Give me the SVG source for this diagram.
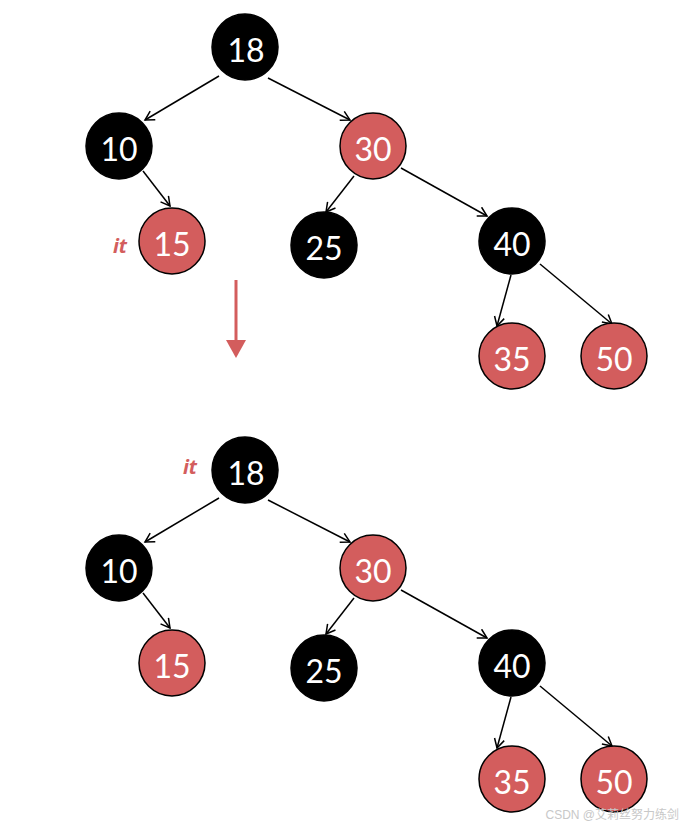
<svg xmlns="http://www.w3.org/2000/svg" width="686" height="828" viewBox="0 0 686 828">
<defs>
<marker id="ah" markerWidth="12" markerHeight="12" refX="10" refY="6" orient="auto" markerUnits="userSpaceOnUse">
<polyline points="1,1 10,6 1,11" fill="none" stroke="#000" stroke-width="1.5"/>
</marker>
<style>
.b{fill:#000;stroke:#000;stroke-width:1.5}
.r{fill:#d35d5d;stroke:#000;stroke-width:1.5}
.t{fill:#fff;font-family:Lato,"Open Sans",sans-serif;font-size:32px;text-anchor:middle;dominant-baseline:central}
.e{stroke:#000;stroke-width:1.5;fill:none;marker-end:url(#ah)}
.it{fill:#d35d5d;font-family:"Open Sans","Noto Sans",sans-serif;font-size:20px;font-style:italic;font-weight:bold;text-anchor:middle}
</style>
</defs>
<rect width="686" height="828" fill="#fff"/>
<g id="connectors">
<line class="e" x1="219" y1="76" x2="145" y2="120"/>
<line class="e" x1="268" y1="78" x2="350" y2="120"/>
<line class="e" x1="143" y1="171" x2="170" y2="206"/>
<line class="e" x1="354" y1="176" x2="326" y2="212"/>
<line class="e" x1="401" y1="168" x2="487" y2="216"/>
<line class="e" x1="511" y1="275" x2="497" y2="326"/>
<line class="e" x1="540" y1="264" x2="612" y2="324"/>
<line class="e" x1="219" y1="498" x2="145" y2="542"/>
<line class="e" x1="268" y1="500" x2="350" y2="542"/>
<line class="e" x1="143" y1="593" x2="170" y2="628"/>
<line class="e" x1="354" y1="598" x2="326" y2="634"/>
<line class="e" x1="401" y1="590" x2="487" y2="638"/>
<line class="e" x1="511" y1="697" x2="497" y2="748"/>
<line class="e" x1="540" y1="686" x2="612" y2="746"/>
<line x1="236" y1="280" x2="236" y2="342" stroke="#d35d5d" stroke-width="3"/>
<polygon points="226,340 246,340 236,358" fill="#d35d5d"/>
</g>
<g id="n18a"><circle class="b" cx="245" cy="47" r="33"/><text class="t" x="246" y="49">18</text></g>
<g id="n10a"><circle class="b" cx="119" cy="146" r="33"/><text class="t" x="119" y="148">10</text></g>
<g id="n30a"><circle class="r" cx="373" cy="146" r="33"/><text class="t" x="373" y="148">30</text></g>
<g id="n15a"><circle class="r" cx="172" cy="241" r="33"/><text class="t" x="172" y="243">15</text></g>
<g id="n25a"><circle class="b" cx="324" cy="245" r="33"/><text class="t" x="324" y="247">25</text></g>
<g id="n40a"><circle class="b" cx="512" cy="241" r="33"/><text class="t" x="512" y="243">40</text></g>
<g id="n35a"><circle class="r" cx="512" cy="356" r="33"/><text class="t" x="512" y="358">35</text></g>
<g id="n50a"><circle class="r" cx="614" cy="356" r="33"/><text class="t" x="614" y="358">50</text></g>
<text class="it" x="120" y="253">it</text>
<g id="n18b"><circle class="b" cx="245" cy="470" r="33"/><text class="t" x="246" y="472">18</text></g>
<g id="n10b"><circle class="b" cx="119" cy="568" r="33"/><text class="t" x="119" y="570">10</text></g>
<g id="n30b"><circle class="r" cx="373" cy="568" r="33"/><text class="t" x="373" y="570">30</text></g>
<g id="n15b"><circle class="r" cx="172" cy="663" r="33"/><text class="t" x="172" y="665">15</text></g>
<g id="n25b"><circle class="b" cx="324" cy="668" r="33"/><text class="t" x="324" y="670">25</text></g>
<g id="n40b"><circle class="b" cx="512" cy="663" r="33"/><text class="t" x="512" y="665">40</text></g>
<g id="n35b"><circle class="r" cx="512" cy="779" r="33"/><text class="t" x="512" y="781">35</text></g>
<g id="n50b"><circle class="r" cx="614" cy="779" r="33"/><text class="t" x="614" y="781">50</text></g>
<text class="it" x="190" y="474">it</text>
<text x="679" y="819" text-anchor="end" font-family="'Liberation Sans','Noto Sans CJK SC',sans-serif" font-size="12" fill="#c8c8c8">CSDN @艾莉丝努力练剑</text>
</svg>
